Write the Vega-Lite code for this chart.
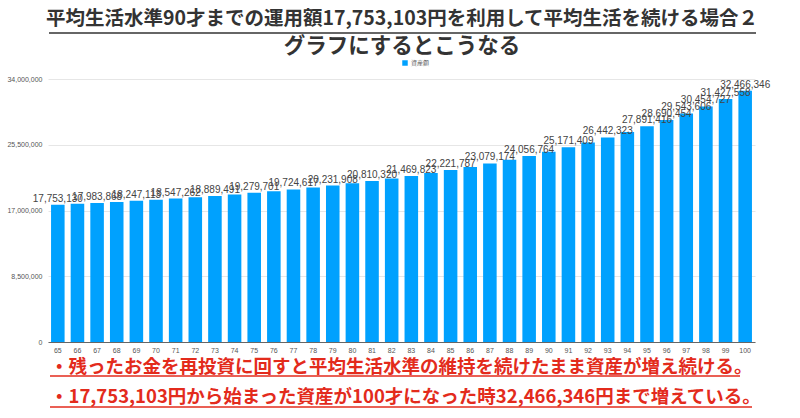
{
  "$schema": "https://vega.github.io/schema/vega-lite/v6.json",
  "autosize": "none",
  "width": 707,
  "height": 263,
  "padding": {"left": 48, "top": 79, "right": 45, "bottom": 76},
  "background": "white",
  "config": {
    "view": {"stroke": null},
    "font": "Noto Sans CJK JP"
  },
  "data": {
    "values": [
      {"age": 65, "value": 17753130, "label": "17,753,130", "series": "資産額"},
      {"age": 66, "value": 17864716, "series": "資産額"},
      {"age": 67, "value": 17983868, "label": "17,983,868", "series": "資産額"},
      {"age": 68, "value": 18111175, "series": "資産額"},
      {"age": 69, "value": 18247113, "label": "18,247,113", "series": "資産額"},
      {"age": 70, "value": 18392267, "series": "資産額"},
      {"age": 71, "value": 18547262, "label": "18,547,262", "series": "資産額"},
      {"age": 72, "value": 18712766, "series": "資産額"},
      {"age": 73, "value": 18889491, "label": "18,889,491", "series": "資産額"},
      {"age": 74, "value": 19078199, "series": "資産額"},
      {"age": 75, "value": 19279701, "label": "19,279,701", "series": "資産額"},
      {"age": 76, "value": 19494865, "series": "資産額"},
      {"age": 77, "value": 19724617, "label": "19,724,617", "series": "資産額"},
      {"age": 78, "value": 19969946, "series": "資産額"},
      {"age": 79, "value": 20231908, "label": "20,231,908", "series": "資産額"},
      {"age": 80, "value": 20511631, "series": "資産額"},
      {"age": 81, "value": 20810320, "label": "20,810,320", "series": "資産額"},
      {"age": 82, "value": 21129260, "series": "資産額"},
      {"age": 83, "value": 21469823, "label": "21,469,823", "series": "資産額"},
      {"age": 84, "value": 21833477, "series": "資産額"},
      {"age": 85, "value": 22221787, "label": "22,221,787", "series": "資産額"},
      {"age": 86, "value": 22636424, "series": "資産額"},
      {"age": 87, "value": 23079174, "label": "23,079,174", "series": "資産額"},
      {"age": 88, "value": 23551942, "series": "資産額"},
      {"age": 89, "value": 24056764, "label": "24,056,764", "series": "資産額"},
      {"age": 90, "value": 24595813, "series": "資産額"},
      {"age": 91, "value": 25171409, "label": "25,171,409", "series": "資産額"},
      {"age": 92, "value": 25786030, "series": "資産額"},
      {"age": 93, "value": 26442323, "label": "26,442,323", "series": "資産額"},
      {"age": 94, "value": 27143113, "series": "資産額"},
      {"age": 95, "value": 27891416, "label": "27,891,416", "series": "資産額"},
      {"age": 96, "value": 28690454, "label": "28,690,454", "series": "資産額"},
      {"age": 97, "value": 29543606, "label": "29,543,606", "series": "資産額"},
      {"age": 98, "value": 30454727, "label": "30,454,727", "series": "資産額"},
      {"age": 99, "value": 31427558, "label": "31,427,558", "series": "資産額"},
      {"age": 100, "value": 32466346, "label": "32,466,346", "series": "資産額"}
    ]
  },
  "layer": [
    {
      "mark": {"type": "bar"},
      "encoding": {
        "x": {
          "field": "age", "type": "ordinal", "title": null,
          "scale": {"paddingInner": 0.31, "paddingOuter": 0.155},
          "axis": {"labelAngle": 0, "labelFontSize": 7, "labelColor": "#555555", "labelFont": "Liberation Sans", "ticks": false, "labelPadding": 4, "domainColor": "#666666", "domainWidth": 1}
        },
        "y": {
          "field": "value", "type": "quantitative", "title": null,
          "scale": {"domain": [0, 34000000], "nice": false},
          "axis": {"values": [0, 8500000, 17000000, 25500000, 34000000], "format": ",.0f", "formatType": "number", "labelFontSize": 7, "labelColor": "#555555", "labelFont": "Liberation Sans", "ticks": false, "domain": false, "labelPadding": 6, "gridColor": "#e6e6e6", "gridWidth": 1}
        },
        "color": {
          "field": "series", "type": "nominal",
          "scale": {"range": ["#00a1fe"]},
          "legend": {"title": null, "orient": "none", "legendX": 354, "legendY": -19, "symbolType": "square", "symbolSize": 30, "labelFontSize": 6, "labelColor": "#666666", "symbolStrokeWidth": 0, "labelOffset": 3}
        }
      }
    },
    {
      "transform": [{"filter": "isValid(datum.label)"}],
      "mark": {"type": "text", "baseline": "bottom", "dy": -1, "fontSize": 10, "font": "Liberation Sans", "color": "#444444"},
      "encoding": {
        "x": {"field": "age", "type": "ordinal", "title": null},
        "y": {
          "field": "value", "type": "quantitative", "title": null,
          "axis": {"values": [0, 8500000, 17000000, 25500000, 34000000], "format": ",.0f", "formatType": "number", "labelFontSize": 7, "labelColor": "#555555", "labelFont": "Liberation Sans", "ticks": false, "domain": false, "labelPadding": 6, "gridColor": "#e6e6e6", "gridWidth": 1}
        },
        "text": {"field": "label"}
      }
    },
    {
      "data": {"values": [{"t": "平均生活水準90才までの運用額17,753,103円を利用して平均生活を続ける場合２"}]},
      "mark": {"type": "text", "align": "center", "baseline": "middle", "fontSize": 19.5, "fontWeight": "bold", "font": "Noto Sans CJK JP", "color": "#333333"},
      "encoding": {"x": {"value": 354}, "y": {"value": -60}, "text": {"field": "t"}}
    },
    {
      "data": {"values": [{"t": "グラフにするとこうなる"}]},
      "mark": {"type": "text", "align": "center", "baseline": "middle", "fontSize": 21.5, "fontWeight": "bold", "font": "Noto Sans CJK JP", "color": "#333333"},
      "encoding": {"x": {"value": 354}, "y": {"value": -32}, "text": {"field": "t"}}
    },
    {
      "data": {"values": [{"t": "title"}]},
      "mark": {"type": "rule", "color": "#333333", "strokeWidth": 1.5},
      "encoding": {"x": {"value": 1}, "x2": {"value": 708}, "y": {"value": -46}}
    },
    {
      "data": {"values": [{"t": "・残ったお金を再投資に回すと平均生活水準の維持を続けたまま資産が増え続ける。"}]},
      "mark": {"type": "text", "align": "left", "baseline": "middle", "fontSize": 18.5, "fontWeight": "bold", "font": "Noto Sans CJK JP", "color": "#e32b1c"},
      "encoding": {"x": {"value": 2}, "y": {"value": 288}, "text": {"field": "t"}}
    },
    {
      "data": {"values": [{"t": "・17,753,103円から始まった資産が100才になった時32,466,346円まで増えている。"}]},
      "mark": {"type": "text", "align": "left", "baseline": "middle", "fontSize": 18.5, "fontWeight": "bold", "font": "Noto Sans CJK JP", "color": "#e32b1c"},
      "encoding": {"x": {"value": 2}, "y": {"value": 318}, "text": {"field": "t"}}
    },
    {
      "data": {"values": [{"t": "line1"}]},
      "mark": {"type": "rule", "color": "#e32b1c", "strokeWidth": 1.5},
      "encoding": {"x": {"value": 2}, "x2": {"value": 692}, "y": {"value": 297}}
    },
    {
      "data": {"values": [{"t": "line2"}]},
      "mark": {"type": "rule", "color": "#e32b1c", "strokeWidth": 1.5},
      "encoding": {"x": {"value": 2}, "x2": {"value": 704}, "y": {"value": 328}}
    }
  ]
}
